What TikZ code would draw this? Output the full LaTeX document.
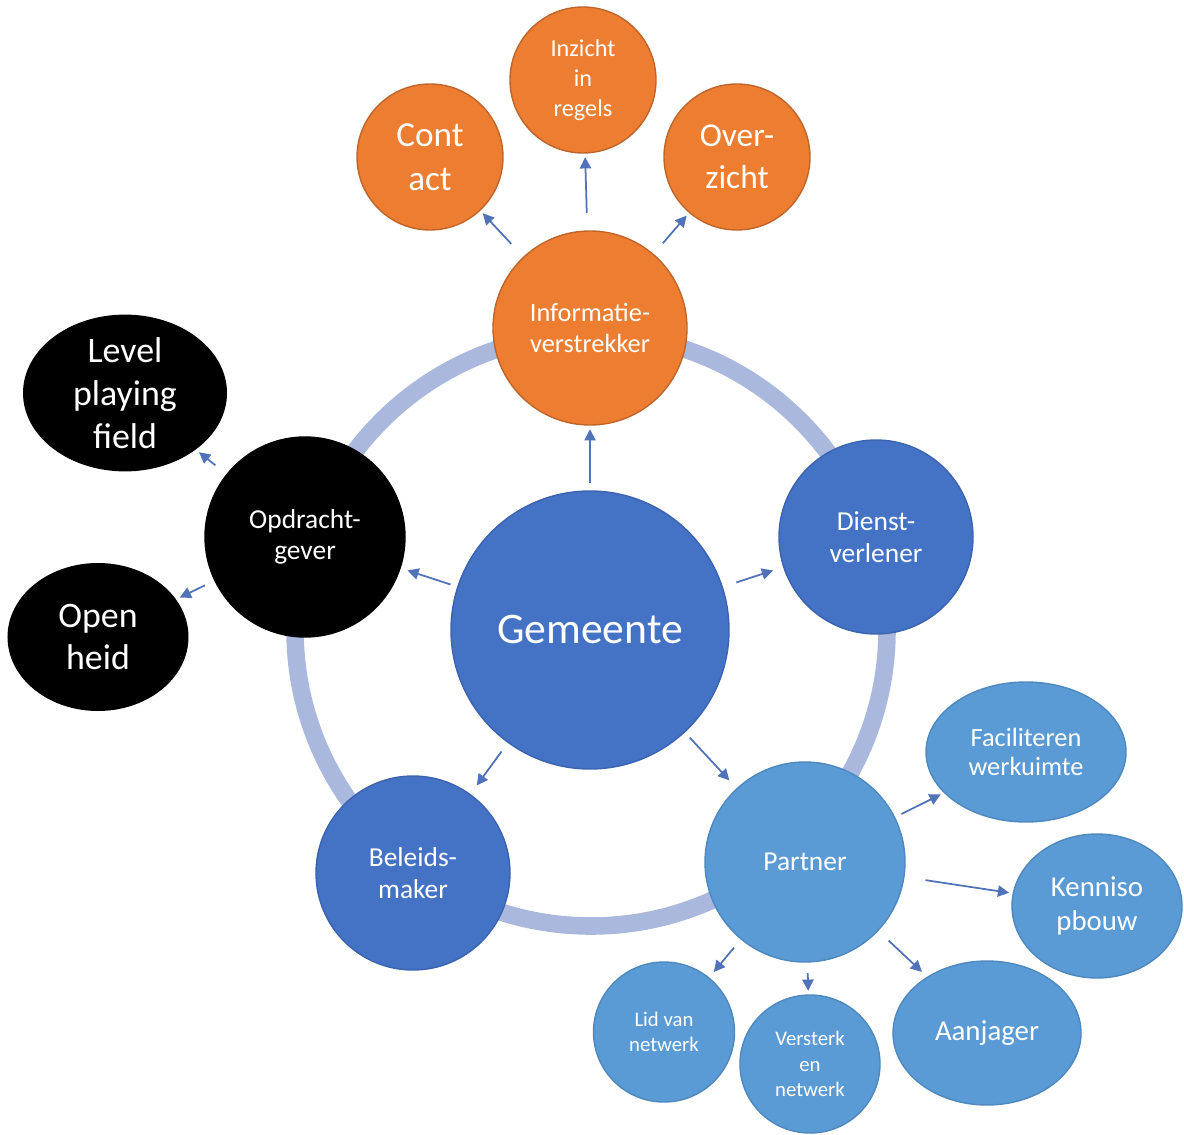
\documentclass[tikz,border=0pt]{standalone}
\usepackage{fontspec}
\setmainfont{Carlito}
\usetikzlibrary{shapes.geometric,arrows.meta}

\definecolor{oranje}{HTML}{ED7D31}
\definecolor{oranjerand}{HTML}{C0652A}
\definecolor{blauw}{HTML}{4472C4}
\definecolor{blauwrand}{HTML}{3B64B0}
\definecolor{lichtblauw}{HTML}{5B9BD5}
\definecolor{lichtrand}{HTML}{4D88BF}
\definecolor{ringkleur}{HTML}{AAB8DD}
\definecolor{pijlkleur}{HTML}{4F72B8}

\newcommand{\fs}[2]{\fontsize{#1}{#2}\selectfont}

\begin{document}
\begin{tikzpicture}[
  hub/.style={circle, fill=blauw, draw=blauwrand, line width=0.4pt, minimum size=2.78cm, inner sep=0pt, text=white, align=center, font=\fs{12.4}{15}},
  rol/.style={circle, line width=0.4pt, minimum size=1.94cm, inner sep=0pt, text=white, align=center, font=\fs{7.8}{9}},
  taak/.style={circle, fill=oranje, draw=oranjerand, line width=0.4pt, minimum size=1.46cm, inner sep=0pt, text=white, align=center},
  waarde/.style={ellipse, fill=black, minimum height=1.48cm, inner sep=0pt, text=white, align=center, font=\fs{10.2}{12.2}},
  rolpartner/.style={ellipse, fill=lichtblauw, draw=lichtrand, line width=0.4pt, inner sep=0pt, text=white, align=center},
  pijl/.style={draw=pijlkleur, line width=0.5pt, -{Triangle[length=3.2pt, width=3.2pt]}, shorten <=2pt, shorten >=1pt}]

  \useasboundingbox (0,0) rectangle (11.84,-11.35);

  % ring
  \draw[ringkleur, line width=5pt] (5.91,-6.30) circle (2.96);

  % kern en rollen
  \node[hub] (gem) at (5.90,-6.30) {Gemeente};
  \node[rol, fill=oranje, draw=oranjerand, font=\fs{7.5}{8.8}] (info) at (5.90,-3.28) {Informatie-\\verstrekker};
  \node[rol, fill=blauw, draw=blauwrand] (dienst) at (8.76,-5.37) {Dienst-\\verlener};
  \node[rol, fill=lichtblauw, draw=lichtrand, minimum size=2.0cm] (partner) at (8.05,-8.62) {Partner};
  \node[rol, fill=blauw, draw=blauwrand] (beleid) at (4.13,-8.73) {Beleids-\\maker};
  \node[rol, fill=black, draw=black, minimum size=2.0cm] (opdracht) at (3.05,-5.37) {Opdracht-\\gever};

  % informatieverstrekker
  \node[taak, font=\fs{10}{12.5}] (contact) at (4.30,-1.57) {Cont\\act};
  \node[taak, font=\fs{6.9}{8.6}] (inzicht) at (5.83,-0.80) {Inzicht\\in\\regels};
  \node[taak, font=\fs{9.5}{12}] (overzicht) at (7.37,-1.57) {Over-\\zicht};

  % opdrachtgever
  \node[waarde, minimum width=2.04cm] (level) at (1.25,-3.93) {Level\\playing\\field};
  \node[waarde, minimum width=1.81cm] (open) at (0.98,-6.37) {Open\\heid};

  % partner
  \node[rolpartner, minimum width=2.0cm, minimum height=1.40cm, font=\fs{7.5}{8.4}] (facil) at (10.26,-7.52) {Faciliteren\\werkuimte};
  \node[rolpartner, minimum width=1.70cm, minimum height=1.44cm, font=\fs{8.2}{9.8}] (kennis) at (10.97,-9.06) {Kenniso\\pbouw};
  \node[rolpartner, minimum width=1.88cm, minimum height=1.44cm, font=\fs{8.2}{9.8}] (aanjager) at (9.87,-10.33) {Aanjager};
  \node[rolpartner, minimum width=1.41cm, minimum height=1.40cm, font=\fs{5.9}{7.3}] (lid) at (6.64,-10.32) {Lid van\\netwerk};
  \node[rolpartner, minimum width=1.40cm, minimum height=1.38cm, font=\fs{5.9}{7.3}] (versterk) at (8.10,-10.64) {Versterk\\en\\netwerk};

  \draw[pijl] (gem) -- (info);
  \draw[pijl, shorten <=4pt, shorten >=3pt] (gem) -- (dienst);
  \draw[pijl, shorten <=2pt, shorten >=3pt] (gem) -- (partner);
  \draw[pijl, shorten <=3pt, shorten >=3pt] (gem) -- (beleid);
  \draw[pijl, shorten >=2pt] (gem) -- (opdracht);

  \draw[pijl, shorten <=5pt, shorten >=1pt] (info) -- (contact);
  \draw[pijl, shorten <=5pt, shorten >=1pt] (info) -- (inzicht);
  \draw[pijl, shorten <=4pt, shorten >=1pt] (info) -- (overzicht);

  \draw[pijl, shorten <=4pt] (opdracht) -- (level);
  \draw[pijl, shorten <=3pt] (opdracht) -- (open);

  \draw[pijl] (partner) -- (facil);
  \draw[pijl, shorten <=6pt] (partner) -- (kennis);
  \draw[pijl, shorten <=4pt, shorten >=2pt] (partner) -- (aanjager);
  \draw[pijl, shorten <=3pt] (partner) -- (versterk);
  \draw[pijl, shorten <=3pt, shorten >=2pt] (partner) -- (lid);
\end{tikzpicture}
\end{document}
